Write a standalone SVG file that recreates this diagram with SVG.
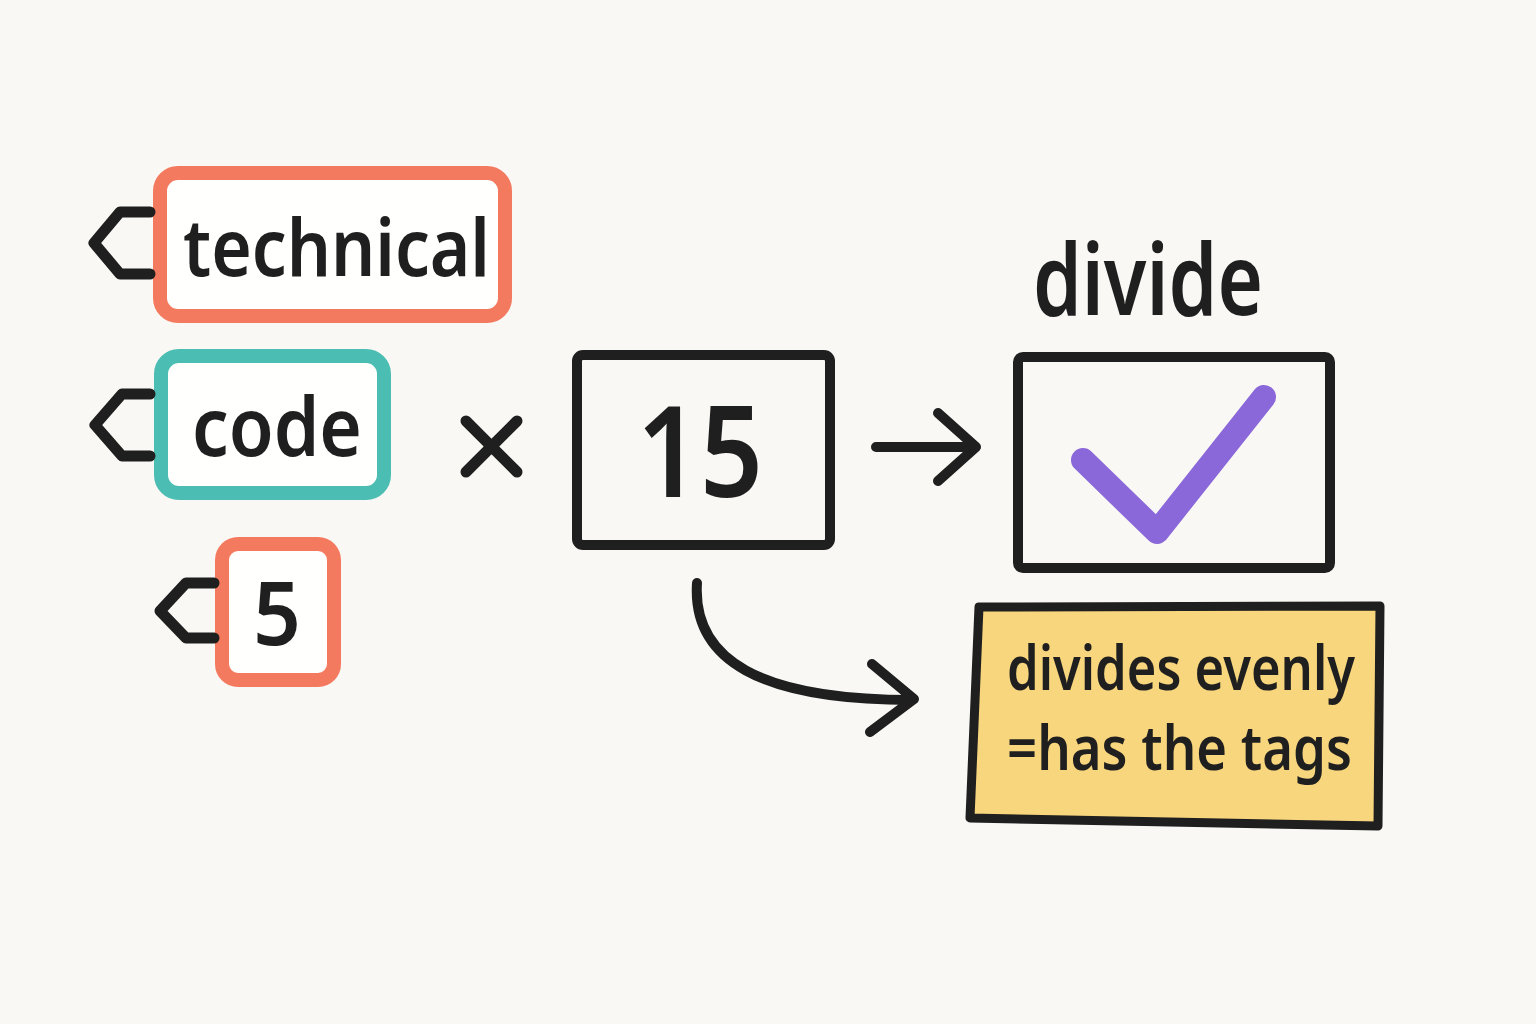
<svg xmlns="http://www.w3.org/2000/svg" width="1536" height="1024" viewBox="0 0 1536 1024">
<style>
.txt{font-family:"Noto Sans","Open Sans","DejaVu Sans",sans-serif;fill:#1f1f1f;font-weight:600}
.ink{fill:none;stroke:#1f1f1f;stroke-linecap:round;stroke-linejoin:round}
.notch{fill:none;stroke:#1f1f1f;stroke-width:11;stroke-linecap:round;stroke-linejoin:round}
.orange{fill:#fffffd;stroke:#f47a5f;stroke-width:14}
.teal{fill:#fffffd;stroke:#4cbdb3;stroke-width:14}
</style>
<rect width="1536" height="1024" fill="#f9f8f4"/>
<g id="tag-technical">
<rect class="orange" x="160" y="173" width="345" height="143" rx="18"/>
<polyline class="notch" points="150,212 120,212 94,243 120,274 150,274"/>
<text class="txt" x="183" y="276" font-size="80" textLength="307" lengthAdjust="spacingAndGlyphs">technical</text>
</g>
<g id="tag-code">
<rect class="teal" x="161" y="356" width="223" height="137" rx="18"/>
<polyline class="notch" points="150,394 122,394 95,425 122,456 150,456"/>
<text class="txt" x="192" y="456" font-size="82" textLength="170" lengthAdjust="spacingAndGlyphs">code</text>
</g>
<g id="tag-5">
<rect class="orange" x="222" y="544" width="112" height="136" rx="16"/>
<polyline class="notch" points="214,583 186,583 160,611 186,638 214,638"/>
<text class="txt" x="253" y="645" font-size="88" textLength="48" lengthAdjust="spacingAndGlyphs">5</text>
</g>
<g id="times">
<path class="ink" stroke-width="11" d="M466,421 L517,472 M517,421 L466,472"/>
</g>
<g id="box-15">
<rect class="ink" x="577" y="355" width="253" height="190" rx="6" stroke-width="10" fill="#fbfaf6"/>
<text class="txt" x="637" y="497" font-size="126" textLength="126" lengthAdjust="spacingAndGlyphs">15</text>
</g>
<g id="divide-label">
<text class="txt" x="1033" y="315" font-size="100" textLength="230" lengthAdjust="spacingAndGlyphs">divide</text>
</g>
<g id="box-check">
<rect class="ink" x="1018" y="357" width="312" height="211" rx="5" stroke-width="10" fill="#fbfaf6"/>
<polyline points="1083,460 1157,532 1264,397" fill="none" stroke="#8b68d9" stroke-width="24" stroke-linecap="round" stroke-linejoin="round"/>
</g>
<g id="note">
<path d="M979,607 L1380,606 L1378,826 L970,818 Z" fill="#f8d67e" stroke="#1f1f1f" stroke-width="9" stroke-linejoin="round"/>
<text class="txt" x="1007" y="690" font-size="62" textLength="348" lengthAdjust="spacingAndGlyphs">divides evenly</text>
<text class="txt" x="1007" y="770" font-size="62" textLength="345" lengthAdjust="spacingAndGlyphs">=has the tags</text>
</g>
<g id="connectors">
<path class="ink" stroke-width="10" d="M876,447 L974,447 M938,413 L976,447 L938,481"/>
<path class="ink" stroke-width="10" d="M697,583 C692,660 760,700 912,700 M872,664 L914,699 L870,732"/>
</g>
</svg>
